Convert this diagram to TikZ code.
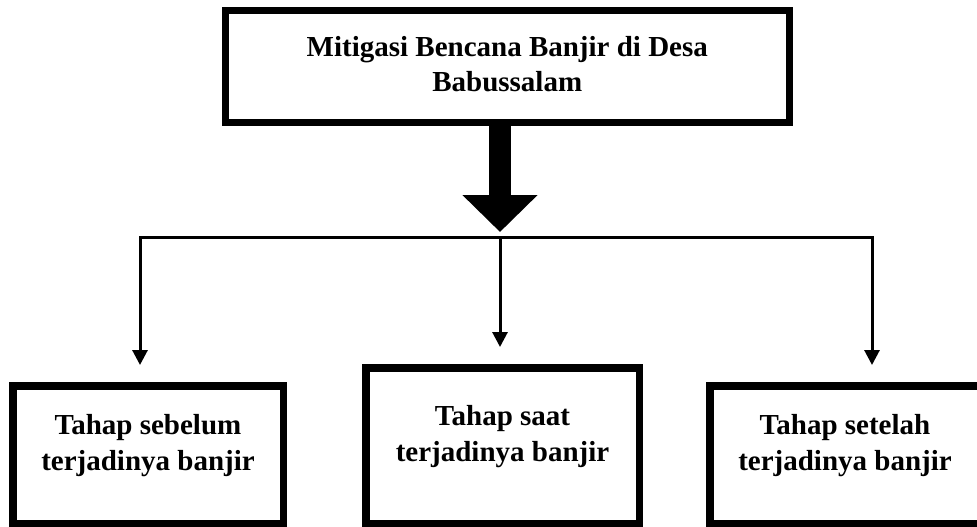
\documentclass[tikz,border=0pt]{standalone}
\usepackage{fontspec}
\setmainfont{Liberation Serif}
\usetikzlibrary{arrows.meta}

\begin{document}
\begin{tikzpicture}[x=1pt,y=1pt,
  box/.style={draw,line width=7.5pt,align=center,inner sep=0pt,
    font=\fontsize{29}{36}\selectfont\bfseries,text depth=25pt},
  link/.style={line width=3pt,-{Triangle[width=15pt,length=15pt]},shorten >=17pt},
  bigarrow/.style={line width=22pt,-{Triangle[width=73pt,length=37pt]},shorten >=5pt}]
  \path[use as bounding box,clip] (0,0) rectangle (977,-527);

  \node[box,line width=7pt,minimum width=563.5pt,minimum height=111.5pt,
    font=\fontsize{29}{35}\selectfont\bfseries,text depth=5pt]
    (top) at (507.25,-66.75) {Mitigasi Bencana Banjir di Desa\\Babussalam};

  \node[box,minimum width=270.5pt,minimum height=137.5pt] (before) at (148,-454.5)
    {Tahap sebelum\\terjadinya banjir};
  \node[box,minimum width=273.5pt,minimum height=155.5pt] (during) at (502.5,-445.5)
    {Tahap saat\\terjadinya banjir};
  \node[box,minimum width=270.5pt,minimum height=137.5pt] (after) at (845,-454.5)
    {Tahap setelah\\terjadinya banjir};

  \coordinate (hub) at (500,-237);
  \coordinate (busL) at (140,-237);
  \coordinate (busR) at (872,-237);

  \draw[bigarrow] (hub |- top.south) -- (hub);
  \draw[link] (hub) -- (busL) -- (busL |- before.north);
  \draw[link] (hub) -- (hub |- during.north);
  \draw[link] (hub) -- (busR) -- (busR |- after.north);
\end{tikzpicture}
\end{document}
